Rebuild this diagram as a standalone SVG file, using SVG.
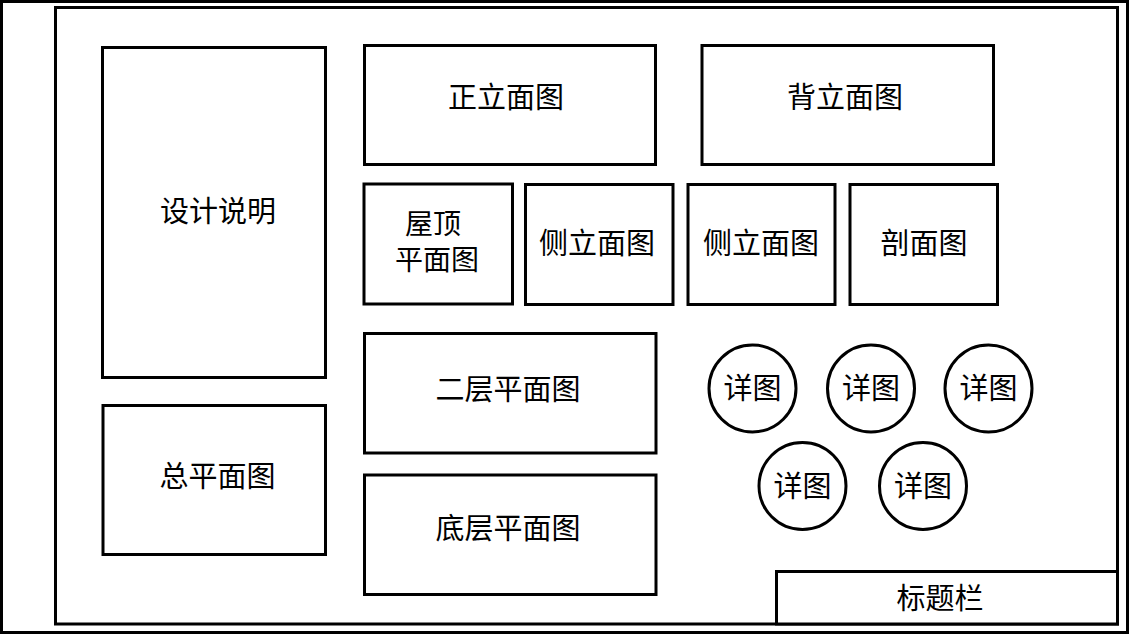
<svg xmlns="http://www.w3.org/2000/svg" width="1129" height="634" viewBox="0 0 1129 634">
<style>
.b{fill:#fff;stroke:#000;stroke-width:3}
.f{fill:none;stroke:#000;stroke-width:3}
.t{font-family:"Noto Sans CJK SC","Noto Sans",sans-serif;font-size:29px;fill:#000;text-anchor:middle;dominant-baseline:central}
.s{font-size:28px}
</style>
<rect x="0" y="0" width="1129" height="634" fill="#fff"/>
<g id="frame">
<rect class="f" x="1.5" y="1.5" width="1126" height="631"/>
<rect class="f" x="55.5" y="7.5" width="1062" height="616.5"/>
</g>
<g id="n-design"><rect class="b" x="102.5" y="47.5" width="223" height="330"/><text class="t" x="218" y="209">设计说明</text></g>
<g id="n-site"><rect class="b" x="103" y="405.5" width="222.5" height="149"/><text class="t" x="217.5" y="474">总平面图</text></g>
<g id="n-front"><rect class="b" x="364.5" y="45.5" width="291" height="119"/><text class="t" x="506" y="95">正立面图</text></g>
<g id="n-back"><rect class="b" x="702" y="45.5" width="291.5" height="119"/><text class="t" x="845" y="95">背立面图</text></g>
<g id="n-roof"><rect class="b" x="364" y="184" width="148.5" height="120"/><text class="t s" x="433" y="222">屋顶</text><text class="t s" x="437" y="258">平面图</text></g>
<g id="n-side1"><rect class="b" x="525.5" y="184.5" width="147.5" height="120"/><text class="t" x="597" y="241">侧立面图</text></g>
<g id="n-side2"><rect class="b" x="688" y="184.5" width="147" height="120"/><text class="t" x="761" y="241">侧立面图</text></g>
<g id="n-section"><rect class="b" x="850" y="184.5" width="147.5" height="120"/><text class="t" x="924" y="241">剖面图</text></g>
<g id="n-floor2"><rect class="b" x="364.5" y="333.5" width="291.5" height="119.5"/><text class="t" x="508" y="387">二层平面图</text></g>
<g id="n-floor1"><rect class="b" x="364.5" y="475" width="291.5" height="119.5"/><text class="t" x="508" y="526">底层平面图</text></g>
<g id="n-d1"><circle class="b" cx="752.5" cy="388.5" r="43.5"/><text class="t" x="752.5" y="386">详图</text></g>
<g id="n-d2"><circle class="b" cx="871" cy="388.5" r="43.5"/><text class="t" x="871" y="386">详图</text></g>
<g id="n-d3"><circle class="b" cx="988.5" cy="388.5" r="43.5"/><text class="t" x="988.5" y="386">详图</text></g>
<g id="n-d4"><circle class="b" cx="802.5" cy="486" r="43.5"/><text class="t" x="802.5" y="484">详图</text></g>
<g id="n-d5"><circle class="b" cx="923" cy="486" r="43.5"/><text class="t" x="923" y="484">详图</text></g>
<g id="n-title"><rect class="b" x="776.5" y="571.5" width="341" height="52.5"/><text class="t" x="940" y="596">标题栏</text></g>
<g id="connectors"></g>
</svg>
